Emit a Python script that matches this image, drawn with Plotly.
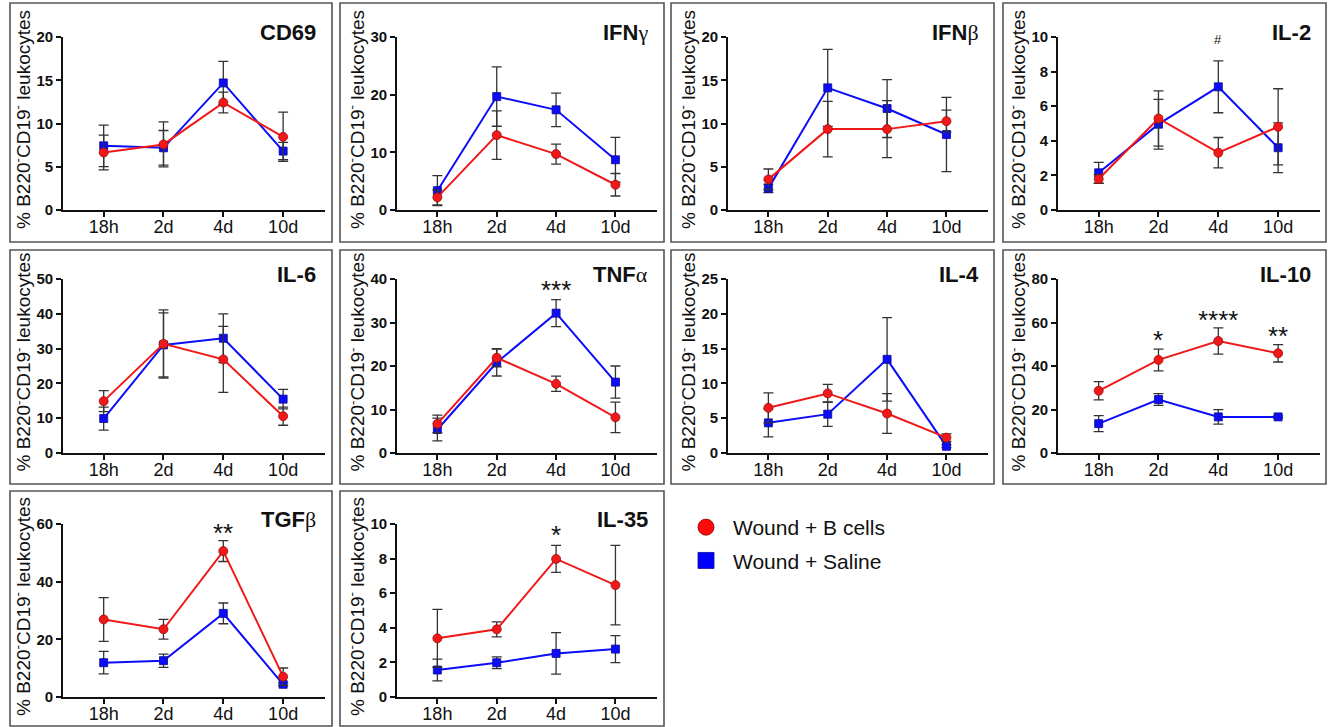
import plotly.graph_objects as go

W, H = 1328, 727

categories = ["18h", "2d", "4d", "10d"]

# ---- data (mean, error) ----
cd69_bcells = [6.65, 7.58, 12.42, 8.46]
cd69_bcells_err = [2.0, 2.6, 1.2, 2.85]
cd69_saline = [7.42, 7.19, 14.69, 6.81]
cd69_saline_err = [2.4, 2.0, 2.5, 1.0]

ifng_bcells = [2.19, 12.98, 9.69, 4.38]
ifng_bcells_err = [1.3, 4.2, 1.75, 1.95]
ifng_saline = [3.35, 19.67, 17.37, 8.71]
ifng_saline_err = [2.6, 5.15, 2.9, 3.9]

ifnb_bcells = [3.54, 9.35, 9.35, 10.27]
ifnb_bcells_err = [1.2, 3.2, 3.3, 1.27]
ifnb_saline = [2.5, 14.12, 11.73, 8.73]
ifnb_saline_err = [0.5, 4.46, 3.35, 4.3]

il2_bcells = [1.79, 5.29, 3.31, 4.81]
il2_bcells_err = [0.25, 1.6, 0.88, 2.2]
il2_saline = [2.15, 4.96, 7.12, 3.6]
il2_saline_err = [0.6, 1.44, 1.5, 1.44]

il6_bcells = [14.9, 31.35, 26.9, 10.58]
il6_bcells_err = [3.0, 9.8, 9.5, 2.6]
il6_saline = [9.9, 31.06, 32.98, 15.48]
il6_saline_err = [3.3, 9.2, 7.0, 2.8]

tnfa_bcells = [6.7, 21.9, 15.9, 8.2]
tnfa_bcells_err = [2.0, 2.1, 1.75, 3.5]
tnfa_saline = [5.4, 20.8, 32.15, 16.3]
tnfa_saline_err = [2.6, 3.1, 3.1, 3.7]

il4_bcells = [6.49, 8.56, 5.67, 2.21]
il4_bcells_err = [2.16, 1.3, 2.85, 0.55]
il4_saline = [4.33, 5.58, 13.46, 0.96]
il4_saline_err = [2.0, 1.75, 6.0, 0.2]

il10_bcells = [28.6, 42.8, 51.5, 45.85]
il10_bcells_err = [4.2, 5.0, 6.0, 4.0]
il10_saline = [13.5, 24.6, 16.6, 16.6]
il10_saline_err = [3.7, 2.7, 3.3, 0.5]

tgfb_bcells = [26.9, 23.5, 50.6, 7.05]
tgfb_bcells_err = [7.6, 3.4, 3.6, 3.0]
tgfb_saline = [11.9, 12.6, 29.0, 4.4]
tgfb_saline_err = [3.9, 2.3, 3.6, 0.5]

il35_bcells = [3.39, 3.91, 7.98, 6.47]
il35_bcells_err = [1.67, 0.43, 0.78, 2.3]
il35_saline = [1.56, 1.98, 2.52, 2.77]
il35_saline_err = [0.63, 0.34, 1.2, 0.78]

panel_titles = ["CD69", "IFN|γ", "IFN|β", "IL-2", "IL-6", "TNF|α", "IL-4", "IL-10", "TGF|β", "IL-35"]
y_max = [20, 30, 20, 10, 50, 40, 25, 80, 60, 10]
y_step = [5, 10, 5, 2, 10, 10, 5, 20, 20, 2]

sig_panel = [3, 5, 7, 7, 7, 8, 9]
sig_cat = ["4d", "4d", "2d", "4d", "10d", "4d", "4d"]
sig_text = ["#", "***", "*", "****", "**", "**", "*"]
sig_y = [9.77, 38.2, 53.3, 62.5, 55.2, 57.9, 9.54]

series_names = ["Wound + B cells", "Wound + Saline"]

bcells_data = [cd69_bcells, ifng_bcells, ifnb_bcells, il2_bcells, il6_bcells,
               tnfa_bcells, il4_bcells, il10_bcells, tgfb_bcells, il35_bcells]
bcells_errs = [cd69_bcells_err, ifng_bcells_err, ifnb_bcells_err, il2_bcells_err, il6_bcells_err,
               tnfa_bcells_err, il4_bcells_err, il10_bcells_err, tgfb_bcells_err, il35_bcells_err]
saline_data = [cd69_saline, ifng_saline, ifnb_saline, il2_saline, il6_saline,
               tnfa_saline, il4_saline, il10_saline, tgfb_saline, il35_saline]
saline_errs = [cd69_saline_err, ifng_saline_err, ifnb_saline_err, il2_saline_err, il6_saline_err,
               tnfa_saline_err, il4_saline_err, il10_saline_err, tgfb_saline_err, il35_saline_err]

# ---- styling / layout ----
RED = "#f01818"
RED_EDGE = "#9a0d0d"
BLUE = "#0c0cf8"
BLUE_EDGE = "#0a0a90"
ERR = "#333333"
FONT = "Liberation Sans, Arial, sans-serif"
SERIF = "Liberation Serif, Times New Roman, serif"

col_left = [63, 397, 728, 1058]
col_right = [325, 657, 988, 1320]
row_top = [37, 279, 524]
row_bot = [210, 453, 697]
frame_x = [(10, 332), (340, 664), (671, 994), (1003, 1326)]
frame_y = [(3, 242), (250, 484), (491, 726)]


def px(x):
    return x / W


def py(y):
    return 1 - y / H


fig = go.Figure()
layout = {}
annotations = []
shapes = []

for i in range(10):
    r, c = divmod(i, 4)
    n = i + 1
    xa = "xaxis" if n == 1 else f"xaxis{n}"
    ya = "yaxis" if n == 1 else f"yaxis{n}"
    xr = "x" if n == 1 else f"x{n}"
    yr = "y" if n == 1 else f"y{n}"

    for data, err, color, edge, sym, size, name in [
        (saline_data[i], saline_errs[i], BLUE, BLUE_EDGE, "square", 8, series_names[1]),
        (bcells_data[i], bcells_errs[i], RED, RED_EDGE, "circle", 9, series_names[0]),
    ]:
        fig.add_trace(go.Scatter(
            x=categories, y=data, xaxis=xr, yaxis=yr, mode="lines+markers",
            name=name, showlegend=False, cliponaxis=False,
            line=dict(color=color, width=2),
            marker=dict(symbol=sym, size=size, color=color, line=dict(color=edge, width=0.8)),
            error_y=dict(type="data", array=err, visible=True, color=ERR, thickness=1.3, width=5),
        ))

    layout[xa] = dict(
        domain=[px(col_left[c]), px(col_right[c])], anchor=yr, type="category",
        range=[-0.68, 3.7], showline=True, linecolor="#111", linewidth=1.6,
        ticks="outside", ticklen=5, tickwidth=1.6, tickcolor="#111",
        ticklabelstandoff=-5,
        tickfont=dict(family=FONT, size=18, color="#111"), showgrid=False, zeroline=False,
        fixedrange=True, automargin=False,
    )
    layout[ya] = dict(
        domain=[py(row_bot[r]), py(row_top[r])], anchor=xr,
        range=[0, y_max[i]], dtick=y_step[i], tick0=0, showline=True, linecolor="#111",
        linewidth=1.6, ticks="outside", ticklen=5, tickwidth=1.6, tickcolor="#111",
        tickfont=dict(family=FONT, size=15, color="#111", weight="bold"),
        showgrid=False, zeroline=False, fixedrange=True, automargin=False,
    )

    # frame
    fx0, fx1 = frame_x[c]
    fy0, fy1 = frame_y[r]
    shapes.append(dict(type="rect", xref="paper", yref="paper",
                       x0=px(fx0), x1=px(fx1), y0=py(fy1), y1=py(fy0),
                       line=dict(color="#555", width=1.6), fillcolor="rgba(0,0,0,0)"))

    # y-axis title
    annotations.append(dict(
        xref="paper", yref="paper", x=px(col_left[c] - 41),
        y=py((row_top[r] + row_bot[r]) / 2 - 3.5),
        text="% B220<sup>-</sup>CD19<sup>-</sup> leukocytes", textangle=-90,
        showarrow=False, xanchor="center", yanchor="middle",
        font=dict(family=FONT, size=19, color="#111"),
    ))

    # panel title
    t = panel_titles[i]
    if "|" in t:
        a, g = t.split("|")
        ttxt = f"<b>{a}</b><span style='font-family:{SERIF};font-weight:normal'>{g}</span>"
    else:
        ttxt = f"<b>{t}</b>"
    annotations.append(dict(
        xref="paper", yref="paper", x=px(col_right[c] - 7), y=py(row_top[r] - 5),
        text=ttxt, showarrow=False, xanchor="right", yanchor="middle",
        font=dict(family=FONT, size=22, color="#111"),
    ))

for p, cat, txt, yv in zip(sig_panel, sig_cat, sig_text, sig_y):
    n = p + 1
    xr = "x" if n == 1 else f"x{n}"
    yr = "y" if n == 1 else f"y{n}"
    is_hash = txt == "#"
    annotations.append(dict(
        xref=xr, yref=yr, x=cat, y=yv, text=txt, showarrow=False,
        xanchor="center", yanchor="middle", yshift=1 if is_hash else -3,
        font=dict(family=FONT, size=13 if is_hash else 26, color="#111"),
    ))

# legend entries
fig.add_trace(go.Scatter(
    x=[None], y=[None], mode="markers", name=series_names[0], showlegend=True,
    marker=dict(symbol="circle", size=16, color="#ff0a0a", line=dict(color=RED_EDGE, width=1)),
    legendgroup="b",
))
fig.add_trace(go.Scatter(
    x=[None], y=[None], mode="markers", name=series_names[1], showlegend=True,
    marker=dict(symbol="square", size=16, color="#0000ff", line=dict(color=BLUE_EDGE, width=0.8)),
    legendgroup="s",
))

fig.update_layout(
    template="none",
    width=W, height=H, margin=dict(l=0, r=0, t=0, b=0, autoexpand=False),
    paper_bgcolor="white", plot_bgcolor="white",
    annotations=annotations, shapes=shapes,
    showlegend=True,
    legend=dict(x=px(679), y=py(507), xanchor="left", yanchor="top",
                font=dict(family=FONT, size=21, color="#111"),
                itemwidth=44, itemsizing="trace", tracegroupgap=3,
                bgcolor="rgba(0,0,0,0)", borderwidth=0),
    **layout,
)

fig.write_html(
    "out.html",
    config={"displayModeBar": False},
    post_script="document.body.style.margin='0';document.body.style.overflow='hidden';",
)
